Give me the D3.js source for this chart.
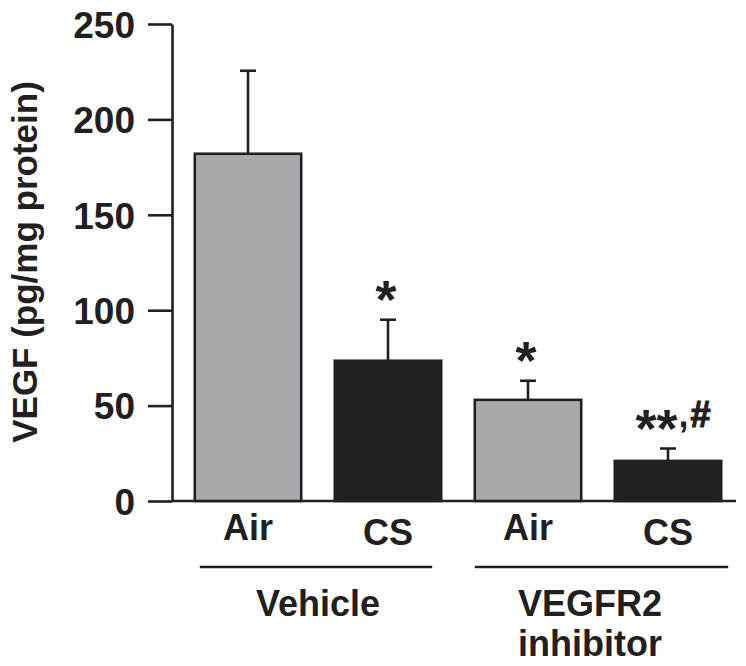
<!DOCTYPE html>
<html>
<head>
<meta charset="utf-8">
<script src="https://cdn.jsdelivr.net/npm/d3@7"></script>
<style>
  html, body { margin: 0; padding: 0; background: #fff; }
  svg { display: block; }
  text { font-family: "Liberation Sans", Arial, sans-serif; font-weight: bold; fill: #231f20; }
</style>
</head>
<body>
<svg id="chart" width="746" height="666"></svg>
<script>
// ---- data ----
const treatments = ["Air", "CS", "Air", "CS"];
const groupNames = ["Vehicle", "VEGFR2 inhibitor"];
const groupOf = [0, 0, 1, 1];
const means = [182, 73.5, 53, 21];
const errors = [43.5, 21.5, 10, 6.5];
const annotations = ["", "*", "*", "**,#"];
const yTicks = [0, 50, 100, 150, 200, 250];
const yTitle = "VEGF (pg/mg protein)";

// ---- layout ----
const ink = "#231f20";
const svg = d3.select("#chart");
const axisX = 172, axisEnd = 736;
const y = d3.scaleLinear().domain([0, 250]).range([501, 24]);
const idx = d3.range(means.length);
const x = d3.scaleBand().domain(idx).range([178, 738]).paddingInner(0.24).paddingOuter(0.12);
const color = d3.scaleOrdinal().domain(["Air", "CS"]).range(["#a7a9ac", "#231f20"]);

// y axis
const yAxis = svg.append("g")
  .attr("transform", `translate(${axisX},0)`)
  .call(d3.axisLeft(y).tickValues(yTicks).tickSize(24).tickSizeOuter(0).tickPadding(13));
yAxis.select(".domain").attr("stroke", ink).attr("stroke-width", 2.6);
yAxis.selectAll(".tick line").attr("stroke", ink).attr("stroke-width", 2.6);
yAxis.selectAll(".tick text")
  .style("font-size", "37px").style("font-family", "'Liberation Sans', Arial, sans-serif")
  .style("font-weight", "bold").attr("fill", ink).attr("dy", "0.36em");

// x axis line
svg.append("line")
  .attr("x1", axisX).attr("x2", axisEnd)
  .attr("y1", y(0)).attr("y2", y(0))
  .attr("stroke", ink).attr("stroke-width", 2.6);

// error bars (upper only)
const errG = svg.append("g");
idx.forEach(i => {
  const cx = x(i) + x.bandwidth() / 2;
  errG.append("line")
    .attr("x1", cx).attr("x2", cx)
    .attr("y1", y(means[i])).attr("y2", y(means[i] + errors[i]))
    .attr("stroke", ink).attr("stroke-width", 2.6);
  errG.append("line")
    .attr("x1", cx - 8).attr("x2", cx + 8)
    .attr("y1", y(means[i] + errors[i])).attr("y2", y(means[i] + errors[i]))
    .attr("stroke", ink).attr("stroke-width", 2.6);
});

// bars
svg.append("g").selectAll("rect").data(idx).join("rect")
  .attr("x", i => x(i))
  .attr("y", i => y(means[i]))
  .attr("width", x.bandwidth())
  .attr("height", i => y(0) - y(means[i]))
  .attr("fill", i => color(treatments[i]))
  .attr("stroke", ink).attr("stroke-width", 2.6);

// significance annotations (one text chunk; relative dy shifts only)
idx.forEach(i => {
  if (!annotations[i]) return;
  const cx = x(i) + x.bandwidth() / 2;
  const top = y(means[i] + errors[i]);
  const t = svg.append("text")
    .attr("x", cx + (annotations[i].length > 1 ? 5 : -2))
    .attr("y", top - 2)
    .attr("text-anchor", "middle");
  let prevStar = true;
  annotations[i].split("").forEach(ch => {
    const star = ch === "*";
    const ts = t.append("tspan").text(ch)
      .style("font-size", star ? "54px" : "36px");
    if (star !== prevStar) ts.attr("dy", star ? 20 : -20);
    if (ch === ",") ts.attr("dx", 1);
    if (ch === "#") ts.attr("dx", 2).attr("stroke", ink).attr("stroke-width", 1.2);
    prevStar = star;
  });
});

// category labels
svg.append("g").selectAll("text").data(idx).join("text")
  .attr("x", i => x(i) + x.bandwidth() / 2)
  .attr("y", i => treatments[i] === "CS" ? 545 : 540)
  .attr("text-anchor", "middle")
  .style("font-size", "36px")
  .text(i => treatments[i]);

// group lines and labels
const lineInset = [[5, -9], [0, 7]];
groupNames.forEach((g, gi) => {
  const members = idx.filter(i => groupOf[i] === gi);
  const first = members[0], last = members[members.length - 1];
  const x1 = x(first) + lineInset[gi][0];
  const x2 = x(last) + x.bandwidth() + lineInset[gi][1];
  svg.append("line")
    .attr("x1", x1).attr("x2", x2).attr("y1", 567).attr("y2", 567)
    .attr("stroke", ink).attr("stroke-width", 2.6);
  const cx = (x(first) + x(last) + x.bandwidth()) / 2 - (gi === 1 ? 8 : 0);
  const words = gi === 1 ? g.split(" ") : [g];
  const t = svg.append("text").attr("x", cx).attr("y", 616).attr("text-anchor", "middle")
    .style("font-size", "36px");
  words.forEach((w, wi) => {
    t.append("tspan").attr("x", cx).attr("dy", wi === 0 ? 0 : 40).text(w);
  });
});

// y title
svg.append("text")
  .attr("transform", "translate(37,262) rotate(-90)")
  .attr("text-anchor", "middle")
  .style("font-size", "35px")
  .text(yTitle);
</script>
</body>
</html>
